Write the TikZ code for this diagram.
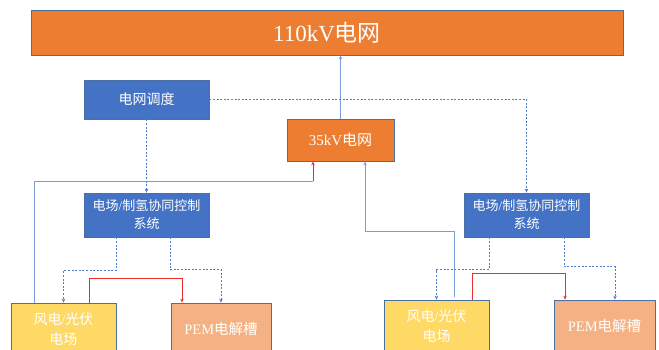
\documentclass[tikz,border=0pt]{standalone}
\usepackage{fontspec}
\setmainfont{Liberation Serif}
\newfontfamily\cjk{Noto Sans CJK SC}
\usetikzlibrary{arrows.meta}
\definecolor{orng}{HTML}{ED7D31}
\definecolor{bluebox}{HTML}{4472C4}
\definecolor{yell}{HTML}{FFD966}
\definecolor{pemc}{HTML}{F4B183}
\definecolor{bord}{HTML}{4A6FA5}
\definecolor{sline}{HTML}{7A9CD8}
\definecolor{dline}{HTML}{4F7BC8}
\definecolor{rline}{HTML}{E8302F}
\tikzset{
  box/.style={draw=bord, line width=0.8pt, text=white, align=center, inner sep=0pt, minimum width=#1},
  tip/.style={-{Stealth[length=4pt,width=3.5pt]}},
  solidline/.style={draw=sline, line width=0.8pt},
  dashline/.style={draw=dline, line width=0.7pt, dash pattern=on 2pt off 1.6pt},
  redline/.style={draw=rline, line width=0.8pt},
}
\begin{document}
\begin{tikzpicture}[x=1pt,y=-1pt]
\useasboundingbox (0,0) rectangle (659,349);
\fill[white] (0,0) rectangle (659,349);
% nodes
\node[box=592pt, fill=orng, minimum height=45pt, font=\fontsize{23}{25}\selectfont] (grid) at (327,32.5) {110kV{\cjk 电网}};
\node[box=125pt, fill=bluebox, minimum height=39pt, font=\fontsize{14}{16}\selectfont] (disp) at (146.5,99.5) {\cjk 电网调度};
\node[box=107pt, fill=orng, minimum height=42pt, font=\fontsize{15}{17}\selectfont] (k35) at (340.5,140) {35kV{\cjk 电网}};
\node[box=125pt, fill=bluebox, minimum height=44pt, font=\fontsize{13}{18}\selectfont] (ctlL) at (146.5,215) {{\cjk 电场}/{\cjk 制氢协同控制}\\{\cjk 系统}};
\node[box=125pt, fill=bluebox, minimum height=44pt, font=\fontsize{13}{18}\selectfont] (ctlR) at (526.5,215) {{\cjk 电场}/{\cjk 制氢协同控制}\\{\cjk 系统}};
\node[box=105pt, fill=yell, minimum height=52pt, font=\fontsize{14}{19.5}\selectfont] (windL) at (63.5,329) {{\cjk 风电}/{\cjk 光伏}\\{\cjk 电场}};
\node[box=100pt, fill=pemc, minimum height=52pt, font=\fontsize{14.5}{16}\selectfont] (pemL) at (221,329) {PEM{\cjk 电解槽}};
\node[box=105pt, fill=yell, minimum height=52pt, font=\fontsize{14}{19.5}\selectfont] (windR) at (436.5,326) {{\cjk 风电}/{\cjk 光伏}\\{\cjk 电场}};
\node[box=101pt, fill=pemc, minimum height=52pt, font=\fontsize{14.5}{16}\selectfont] (pemR) at (604.5,326) {PEM{\cjk 电解槽}};
% connectors
\draw[solidline, tip] (k35.north) -- (k35.north |- grid.south);
\draw[dashline, tip] (disp.south) -- (ctlL.north);
\draw[dashline, tip] (disp.east) -| (ctlR.north);
% left group
\draw[dashline, tip] ([xshift=-30.5pt]ctlL.south) |- ([yshift=32pt]windL.north) -- (windL.north);
\draw[dashline, tip] ([xshift=23.5pt]ctlL.south) |- ([yshift=33pt]pemL.north) -- (pemL.north);
\draw[redline, tip] ([xshift=25.5pt]windL.north) |- ([xshift=-39pt,yshift=24pt]pemL.north) -- ([xshift=-39pt]pemL.north);
\draw[solidline] ([xshift=-29.5pt]windL.north) |- ([xshift=-27.5pt,yshift=-20pt]k35.south) coordinate (c1);
\draw[redline, tip] (c1) -- ([xshift=-27.5pt]k35.south);
% right group
\draw[solidline, tip] ([xshift=17.5pt,yshift=3pt]windR.north) |- ([xshift=24.5pt,yshift=-70pt]k35.south) -- ([xshift=24.5pt]k35.south);
\draw[dashline, tip] ([xshift=-37.5pt]ctlR.south) |- ([yshift=30pt]windR.north) -- (windR.north);
\draw[dashline, tip] ([xshift=37.5pt]ctlR.south) |- ([xshift=10.5pt,yshift=33pt]pemR.north) -- ([xshift=10.5pt]pemR.north);
\draw[redline, tip] ([xshift=35.5pt]windR.north) |- ([xshift=-39.5pt,yshift=26pt]pemR.north) -- ([xshift=-39.5pt]pemR.north);
\end{tikzpicture}
\end{document}
